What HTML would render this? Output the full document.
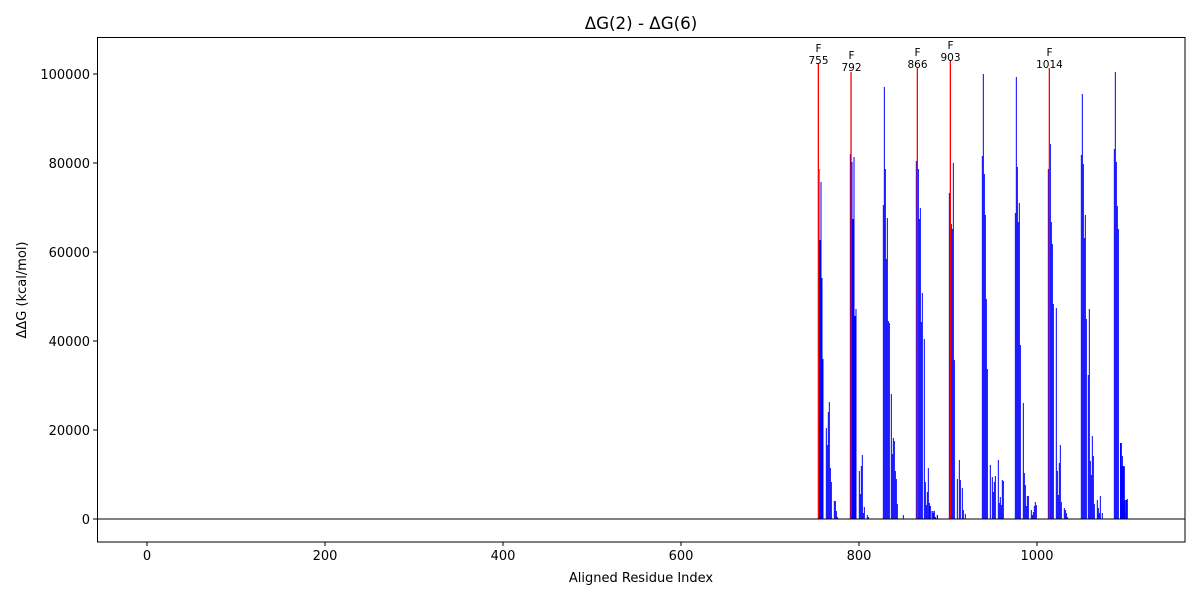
<!DOCTYPE html>
<html><head><meta charset="utf-8"><style>
body{margin:0;background:#fff}
svg{display:block;font-family:"DejaVu Sans","Liberation Sans",sans-serif}
</style></head><body>
<svg id="s" width="1200" height="600" xmlns="http://www.w3.org/2000/svg">
<rect width="1200" height="600" fill="#fff"/>
<text x="641" y="29" font-size="16.7" text-anchor="middle">ΔG(2) - ΔG(6)</text>
<g id="bars"></g>
<line x1="97" y1="519" x2="1185" y2="519" stroke="#000" stroke-width="1"/>
<rect x="97.5" y="37.5" width="1087.5" height="504.5" fill="none" stroke="#000" stroke-width="1"/>
<g font-size="13" text-anchor="middle">
<g stroke="#000"><line x1="147" y1="542" x2="147" y2="546"/><line x1="325" y1="542" x2="325" y2="546"/><line x1="503" y1="542" x2="503" y2="546"/><line x1="681" y1="542" x2="681" y2="546"/><line x1="859" y1="542" x2="859" y2="546"/><line x1="1037" y1="542" x2="1037" y2="546"/></g>
<text x="147" y="560">0</text><text x="325" y="560">200</text><text x="503" y="560">400</text><text x="681" y="560">600</text><text x="859" y="560">800</text><text x="1037" y="560">1000</text>
<text x="641" y="582">Aligned Residue Index</text>
</g>
<g font-size="13" text-anchor="end">
<g stroke="#000"><line x1="93" y1="519" x2="97" y2="519"/><line x1="93" y1="430" x2="97" y2="430"/><line x1="93" y1="341" x2="97" y2="341"/><line x1="93" y1="252" x2="97" y2="252"/><line x1="93" y1="163" x2="97" y2="163"/><line x1="93" y1="74" x2="97" y2="74"/></g>
<text x="90" y="524">0</text><text x="90" y="435">20000</text><text x="90" y="346">40000</text><text x="90" y="257">60000</text><text x="90" y="168">80000</text><text x="90" y="79">100000</text>
</g>
<text transform="translate(26,290) rotate(-90)" font-size="13" text-anchor="middle">ΔΔG (kcal/mol)</text>
<g font-size="10.5" text-anchor="middle">
<text x="818.5" y="52">F</text><text x="818.5" y="64">755</text>
<text x="851.5" y="59">F</text><text x="851.5" y="71">792</text>
<text x="917.5" y="56">F</text><text x="917.5" y="68">866</text>
<text x="950.5" y="49">F</text><text x="950.5" y="61">903</text>
<text x="1049.5" y="56">F</text><text x="1049.5" y="68">1014</text>
</g>
</svg>
<script>
var A=[[745,[[222,169],[225,240],[228,182],[231,278],[234,359],[244,428],[247,445],[250,412],[253,402],[256,468],[259,482],[268,501],[271,501],[274,511],[277,517],
[316,154],[321,162],[324,219],[327,157],[330,316],[333,309],[343,471],[346,494],[349,466],[352,455],[355,513],[358,507],[367,515],[370,517],
[415,205],[418,87],[421,169],[424,259],[427,218],[430,321],[433,323],[439,394],[442,454],[445,438],[448,441],[451,471],[454,479],[457,504],[475,515],
[514,161],[520,169],[523,219],[526,208],[529,322],[532,293],[538,339],[541,482],[544,505],[547,492],[550,468],[553,503],[556,506],[562,511],[565,513],[568,511],[571,517],[577,515]]],
[930,[[0,506],[6,511],[12,511],[16,517],[22,515],
[58,193],[64,224],[67,229],[70,163],[73,360],[82,479],[88,460],[91,480],[97,488],[100,510],[106,514],
[157,156],[160,74],[163,174],[166,215],[169,299],[172,369],[181,465],[187,477],[190,492],[193,482],[196,476],[205,460],[208,503],[211,497],[214,505],[217,480],[220,481],
[256,213],[259,77],[262,167],[265,222],[268,203],[271,345],[280,403],[283,473],[286,485],[289,506],[292,496],[295,496],[304,510],[307,515],[310,512],[313,506],[316,502],[319,505],
[355,169],[361,144],[364,222],[367,244],[370,304],[379,308],[382,471],[385,495],[388,463],[391,445],[394,502],[403,508],[406,510],[409,513],[412,517],
[454,155],[457,94],[460,164],[463,238],[466,215],[469,319],[475,375],[478,309],[481,461],[484,475],[487,436],[490,456],[493,504],[502,500],[505,508],[508,513],[511,496],[517,513],
[553,149],[556,72],[559,162],[562,206],[565,229],[574,443],[577,456],[580,466],[583,467],[586,500],[589,512],[592,499],
[572,443],[575,466],[578,466],[585,500]]]];
var h='';
A.forEach(function(g){g[1].forEach(function(b){var x=g[0]+b[0]/3;h+='<rect x="'+(x-0.5).toFixed(2)+'" y="'+b[1]+'" width="1" height="'+(519-b[1])+'" fill="#0000ff"/>';});});
[[818.3,63],[851,72],[917.3,68],[950.3,60],[1049.3,68]].forEach(function(r){h+='<rect x="'+(r[0]-0.6)+'" y="'+r[1]+'" width="1.3" height="'+(519-r[1])+'" fill="#ff0000"/>';});
h+='<rect x="1120" y="443" width="1" height="76" fill="#0000ff"/><rect x="1122" y="466" width="1" height="53" fill="#0000ff"/><rect x="1123.5" y="466" width="1" height="53" fill="#0000ff"/><rect x="1126" y="500" width="1" height="19" fill="#0000ff"/>';
document.getElementById('bars').innerHTML=h;
</script>
</body></html>
